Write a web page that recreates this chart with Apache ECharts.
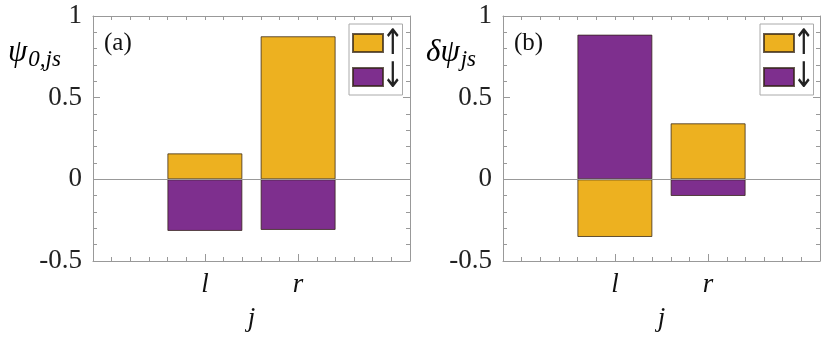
<!DOCTYPE html>
<html>
<head>
<meta charset="utf-8">
<script src="https://cdn.jsdelivr.net/npm/echarts@6/dist/echarts.min.js"></script>
<style>
  html, body { margin: 0; padding: 0; background: #fff; }
  #chart { width: 830px; height: 341px; }
</style>
</head>
<body>
<div id="chart"></div>
<script>
// sites j (l, r) placed at x = 0 and 1
const sites = ['l', 'r'];
const sitePos = [0, 1];

// panel (a): psi_{0,js}
const psi0Up = [0.159, 0.876];
const psi0Down = [-0.316, -0.310];

// panel (b): delta psi_{js}
const dpsiUp = [-0.353, 0.343];
const dpsiDown = [0.886, -0.102];

const spinNames = ['\u2191', '\u2193'];
const upColor = '#EDB120';
const downColor = '#7E2F8E';

const frameColor = '#999';
const serif = 'Liberation Serif';

const chart = echarts.init(document.getElementById('chart'));

const grids = [
  { left: 93, top: 16, width: 317, height: 245 },
  { left: 503, top: 16, width: 317, height: 245 }
];

const xAxes = [];
const yAxes = [];
grids.forEach((g, i) => {
  // minor ticks bottom (frame)
  xAxes.push({
    type: 'value', gridIndex: i, position: 'bottom', min: -1.2, max: 2.2, interval: 0.2,
    axisLine: { show: true, onZero: false, lineStyle: { color: frameColor } },
    axisTick: { show: true, inside: true, length: 4, lineStyle: { color: frameColor } },
    axisLabel: { show: false }, splitLine: { show: false }
  });
  // major ticks + site labels
  xAxes.push({
    type: 'value', gridIndex: i, position: 'bottom', min: -1.2, max: 2.2,
    axisLine: { show: false, onZero: false },
    axisTick: { show: true, inside: true, length: 7, customValues: sitePos, lineStyle: { color: frameColor } },
    axisLabel: {
      show: true, customValues: sitePos, margin: 10,
      formatter: v => sites[sitePos.indexOf(Math.round(v))] || '',
      fontFamily: serif, fontStyle: 'italic', fontSize: 27, color: '#111'
    },
    splitLine: { show: false },
    name: 'j', nameLocation: 'middle', nameGap: 44,
    nameTextStyle: { fontFamily: serif, fontStyle: 'italic', fontSize: 27, color: '#111' }
  });
  // top frame
  xAxes.push({
    type: 'value', gridIndex: i, position: 'top', min: -1.2, max: 2.2, interval: 0.2,
    axisLine: { show: true, onZero: false, lineStyle: { color: frameColor } },
    axisTick: { show: true, inside: true, length: 4, lineStyle: { color: frameColor } },
    axisLabel: { show: false }, splitLine: { show: false }
  });
  // left axis
  yAxes.push({
    type: 'value', gridIndex: i, position: 'left', min: -0.5, max: 1, interval: 0.5,
    axisLine: { show: true, onZero: false, lineStyle: { color: frameColor } },
    axisTick: { show: true, inside: true, length: 7, lineStyle: { color: frameColor } },
    minorTick: { show: true, splitNumber: 5, length: 4, lineStyle: { color: frameColor } },
    axisLabel: { fontFamily: serif, fontSize: 27, color: '#222', margin: 11 },
    splitLine: { show: false }
  });
  // right frame
  yAxes.push({
    type: 'value', gridIndex: i, position: 'right', min: -0.5, max: 1, interval: 0.5,
    axisLine: { show: true, onZero: false, lineStyle: { color: frameColor } },
    axisTick: { show: true, inside: true, length: 7, lineStyle: { color: frameColor } },
    minorTick: { show: true, splitNumber: 5, length: 4, lineStyle: { color: frameColor } },
    axisLabel: { show: false }, splitLine: { show: false }
  });
});

function barSeries(name, values, color, panel, withZero) {
  const s = {
    name: name, type: 'bar', xAxisIndex: panel * 3, yAxisIndex: panel * 2,
    data: sitePos.map((x, k) => [x, values[k]]),
    barWidth: 75, barGap: '-100%',
    itemStyle: { color: color, borderColor: 'rgba(50,35,20,0.75)', borderWidth: 1 },
    emphasis: { disabled: true }
  };
  if (withZero) {
    s.markLine = {
      silent: true, symbol: 'none', label: { show: false },
      lineStyle: { color: frameColor, width: 1, type: 'solid' },
      data: [{ yAxis: 0 }]
    };
  }
  return s;
}

// legend draws the swatches and frame; the tall spin arrows are drawn as text next to them
const legendBase = {
  orient: 'vertical', top: 24, itemWidth: 30, itemHeight: 18, itemGap: 14,
  padding: [9, 14, 8, 3], borderColor: '#aaa', borderWidth: 1, backgroundColor: '#fff',
  icon: 'rect',
  textStyle: { fontSize: 1, color: 'rgba(0,0,0,0)' },
  selectedMode: false, data: spinNames
};

function arrowText(ch, x, y) {
  return {
    type: 'text', x: x, y: y, scaleX: 0.85, scaleY: 1.1, silent: true, z: 100,
    style: { text: ch, fontFamily: 'DejaVu Sans', fontSize: 32, fill: '#222', align: 'center', verticalAlign: 'middle' }
  };
}

const subRich = {
  g: { fontFamily: serif, fontStyle: 'italic', fontSize: 31, color: '#111' },
  s: { fontFamily: serif, fontStyle: 'italic', fontSize: 23, color: '#111', padding: [14, 0, 0, 1] }
};

chart.setOption({
  animation: false,
  grid: grids,
  xAxis: xAxes,
  yAxis: yAxes,
  legend: [
    Object.assign({ left: 349 }, legendBase),
    Object.assign({ left: 760 }, legendBase)
  ],
  graphic: [
    { type: 'text', left: 8, top: 37, style: { text: '{g|\u03c8}{s|0,js}', rich: subRich } },
    { type: 'text', left: 426, top: 37, style: { text: '{g|\u03b4\u03c8}{s|js}', rich: subRich } },
    { type: 'text', left: 104, top: 31, style: { text: '(a)', fontFamily: serif, fontSize: 25, fill: '#111' } },
    { type: 'text', left: 514, top: 31, style: { text: '(b)', fontFamily: serif, fontSize: 25, fill: '#111' } },
    arrowText(spinNames[0], 393, 45),
    arrowText(spinNames[1], 393, 78),
    arrowText(spinNames[0], 804, 45),
    arrowText(spinNames[1], 804, 78)
  ],
  series: [
    barSeries(spinNames[0], psi0Up, upColor, 0, true),
    barSeries(spinNames[1], psi0Down, downColor, 0, false),
    barSeries(spinNames[0], dpsiUp, upColor, 1, true),
    barSeries(spinNames[1], dpsiDown, downColor, 1, false)
  ]
});
</script>
</body>
</html>
